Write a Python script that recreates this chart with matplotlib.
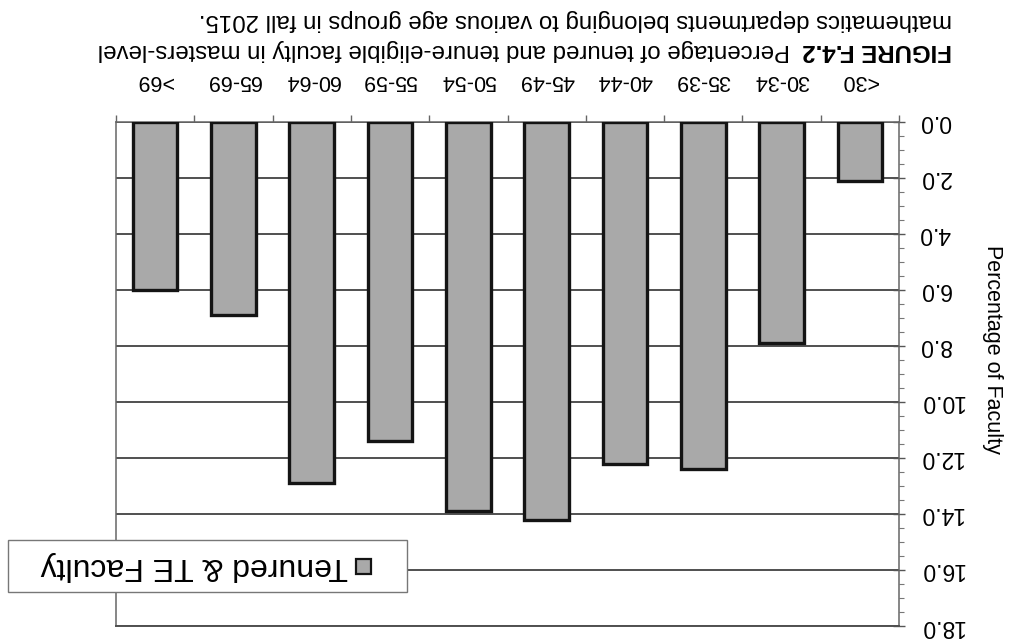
import matplotlib
matplotlib.use("Agg")
import matplotlib.pyplot as plt
from matplotlib.patches import Rectangle
from matplotlib.ticker import MultipleLocator, FixedLocator

# the scanned page is upside down, so the chart is drawn turned by 180 degrees
plt.rcParams['font.family'] = ['Liberation Sans', 'DejaVu Sans']

age_groups = ["<30", "30-34", "35-39", "40-44", "45-49",
              "50-54", "55-59", "60-64", "65-69", ">69"]
pct_faculty = [2.1, 7.9, 12.4, 12.2, 14.2, 13.9, 11.4, 12.9, 6.9, 6.0]
y_ticks = [0, 2, 4, 6, 8, 10, 12, 14, 16, 18]
series_name = "Tenured & TE Faculty"

title_bold = "FIGURE F.4.2"
title_line1 = "Percentage of tenured and tenure-eligible faculty in masters-level"
title_line2 = "mathematics departments belonging to various age groups in fall 2015."

W, H = 1018, 644
fig = plt.figure(figsize=(W / 100, H / 100), dpi=100)
fig.patch.set_facecolor("white")

def px(x, y):
    # pixel coords (from top-left) -> figure fraction
    return x / W, 1 - y / H

x0, y_top = px(116, 121.7)
x1, y_bot = px(899, 626)
ax = fig.add_axes([x0, y_bot, x1 - x0, y_top - y_bot])

pos = list(range(len(age_groups)))
ax.bar(pos, pct_faculty, width=0.57, color="#a9a9a9",
       edgecolor="#141414", linewidth=2.4, zorder=3)

ax.set_xlim(len(age_groups) - 0.5, -0.5)
ax.set_ylim(18, 0)

# grid
ax.yaxis.set_major_locator(FixedLocator(y_ticks))
ax.yaxis.set_minor_locator(MultipleLocator(0.5))
ax.grid(axis="y", which="major", color="#505050", linewidth=1.4, zorder=1)
ax.set_axisbelow(True)

for side in ["top", "bottom", "left", "right"]:
    ax.spines[side].set_color("#666666")
    ax.spines[side].set_linewidth(1.1)
ax.spines["bottom"].set_color("#505050")
ax.spines["bottom"].set_linewidth(1.4)

# y axis on the right side, labels upside down
ax.yaxis.tick_right()
ax.set_yticklabels([f"{v:.1f}" for v in y_ticks])
ax.tick_params(axis="y", which="major", direction="inout", length=9,
               width=1.0, color="#555555", pad=10, labelsize=16.5)
ax.tick_params(axis="y", which="minor", direction="out", length=3.5,
               width=0.8, color="#777777")
for lab in ax.get_yticklabels():
    lab.set_rotation(180)
    lab.set_verticalalignment("center")

# categories on top, labels upside down, ticks between groups
ax.xaxis.tick_top()
ax.set_xticks(pos)
ax.set_xticklabels(age_groups)
ax.xaxis.set_minor_locator(FixedLocator([p - 0.5 for p in pos] + [pos[-1] + 0.5]))
ax.tick_params(axis="x", which="major", length=0, pad=22, labelsize=15.5)
ax.tick_params(axis="x", which="minor", direction="out", length=5,
               width=1.0, color="#666666")
for lab in ax.get_xticklabels():
    lab.set_rotation(180)

# axis title, reads downwards
tx, ty = px(993, 349)
fig.text(tx, ty, "Percentage of Faculty", rotation=270, fontsize=15.5,
         ha="center", va="center")

# caption above the chart (upside down)
tx, ty = px(952, 50)
fig.text(tx, ty, title_bold, rotation=180, fontsize=17.3, fontweight="bold",
         ha="right", va="center")
tx, ty = px(790, 50)
fig.text(tx, ty, title_line1, rotation=180, fontsize=17.3,
         ha="right", va="center")
tx, ty = px(952, 20)
fig.text(tx, ty, title_line2, rotation=180, fontsize=17.3,
         ha="right", va="center")

# legend box drawn by hand so the text can be turned over
lx0, ly1 = px(8, 592)
lx1, ly0 = px(407, 540)
fig.add_artist(Rectangle((lx0, ly1), lx1 - lx0, ly0 - ly1,
                         transform=fig.transFigure, facecolor="white",
                         edgecolor="#777777", linewidth=1.0, zorder=5))
mx0, my1 = px(356, 574)
mx1, my0 = px(371, 559)
fig.add_artist(Rectangle((mx0, my1), mx1 - mx0, my0 - my1,
                         transform=fig.transFigure, facecolor="#a9a9a9",
                         edgecolor="#141414", linewidth=1.6, zorder=6))
tx, ty = px(348, 566)
fig.text(tx, ty, series_name, rotation=180, fontsize=23,
         ha="right", va="center", zorder=7)

fig.savefig("out.png", dpi=100, facecolor="white")
